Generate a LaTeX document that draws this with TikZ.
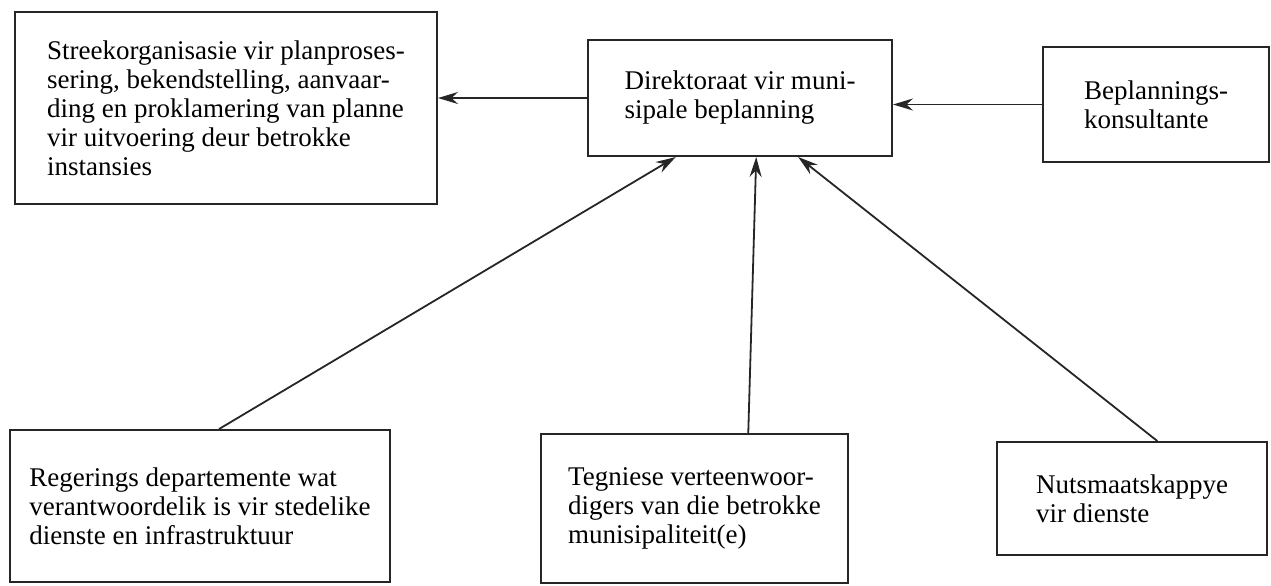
\documentclass[tikz,border=0pt]{standalone}
\usepackage{fontspec}
\setmainfont{Liberation Serif}
\usepackage{tikz}
\usetikzlibrary{arrows.meta, positioning, calc}
\tikzset{
  basebox/.style={rectangle,draw=black!85,line width=1pt,inner sep=0pt,align=left,
    font=\fontsize{13.5}{14.5}\selectfont},
  orgnode/.style={basebox},
  arr/.style={-{Stealth[length=10pt,width=6pt]},line width=0.9pt,color=black!85}
}

\begin{document}
\begin{tikzpicture}[x=0.5pt,y=-0.5pt]
  \useasboundingbox (0,0) rectangle (1271,585);
  \node[orgnode,minimum width=211pt,minimum height=96pt] (streek) at (226,108)
    {Streekorganisasie vir planproses-\\sering, bekendstelling, aanvaar-\\ding en proklamering van planne\\vir uitvoering deur betrokke\\instansies};
  \node[orgnode,minimum width=152pt,minimum height=58pt] (dir) at (740,98)
    {Direktoraat vir muni-\\sipale beplanning};
  \node[orgnode,minimum width=113pt,minimum height=57.5pt] (bep) at (1156,104.5)
    {Beplannings-\\konsultante};

  \node[orgnode,minimum width=190pt,minimum height=76pt] (reg) at (200,506)
    {Regerings departemente wat\\verantwoordelik is vir stedelike\\dienste en infrastruktuur};
  \node[orgnode,minimum width=153.5pt,minimum height=74.5pt] (teg) at (694.5,508.5)
    {Tegniese verteenwoor-\\digers van die betrokke\\munisipaliteit(e)};
  \node[orgnode,minimum width=135pt,minimum height=56.5pt] (nuts) at (1132,498.5)
    {Nutsmaatskappye\\vir dienste};

  % arrows into and out of the directorate
  \draw[arr] (dir.west) -- (streek.east |- dir.west);
  \draw[arr] (bep.west) -- (dir.east |- bep.west);
  \draw[arr] ($(reg.north west)!0.55!(reg.north east)$) -- ($(dir.south west)!0.29!(dir.south east)$);
  \draw[arr] ($(teg.north west)!0.674!(teg.north east)$) -- ($(dir.south west)!0.553!(dir.south east)$);
  \draw[arr] ($(nuts.north west)!0.593!(nuts.north east)$) -- ($(dir.south west)!0.69!(dir.south east)$);
\end{tikzpicture}
\end{document}
